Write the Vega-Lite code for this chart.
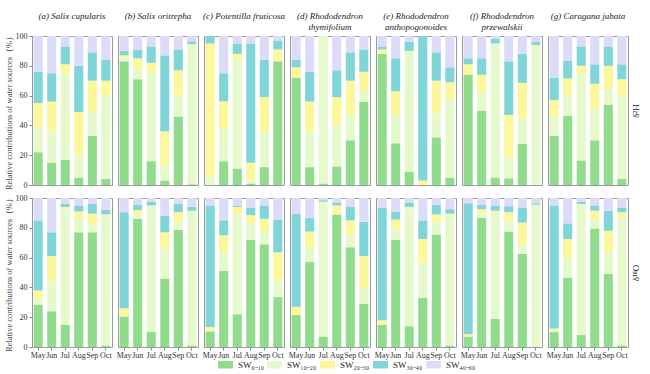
{
  "$schema": "https://vega.github.io/schema/vega-lite/v6.json",
  "background": "white",
  "padding": {"left": 4, "top": 12, "right": 2, "bottom": 2},
  "spacing": 3,
  "config": {
    "font": "Liberation Serif",
    "view": {"stroke": "#9a9a9a", "strokeWidth": 1}
  },
  "data": {"values": [
    {"sp":"a","iso":"H","m":"May","SW0-10":22,"SW10-20":17,"SW20-30":16,"SW30-40":21,"SW40-60":24},
    {"sp":"a","iso":"H","m":"Jun","SW0-10":15,"SW10-20":21,"SW20-30":20,"SW30-40":19,"SW40-60":25},
    {"sp":"a","iso":"H","m":"Jul","SW0-10":17,"SW10-20":58,"SW20-30":6,"SW30-40":12,"SW40-60":7},
    {"sp":"a","iso":"H","m":"Aug","SW0-10":5,"SW10-20":15,"SW20-30":29,"SW30-40":31,"SW40-60":20},
    {"sp":"a","iso":"H","m":"Sep","SW0-10":33,"SW10-20":16,"SW20-30":21,"SW30-40":19,"SW40-60":11},
    {"sp":"a","iso":"H","m":"Oct","SW0-10":4,"SW10-20":56,"SW20-30":10,"SW30-40":14,"SW40-60":16},
    {"sp":"b","iso":"H","m":"May","SW0-10":83,"SW10-20":2,"SW20-30":2,"SW30-40":3,"SW40-60":10},
    {"sp":"b","iso":"H","m":"Jun","SW0-10":71,"SW10-20":7,"SW20-30":7,"SW30-40":6,"SW40-60":9},
    {"sp":"b","iso":"H","m":"Jul","SW0-10":16,"SW10-20":59,"SW20-30":7,"SW30-40":11,"SW40-60":7},
    {"sp":"b","iso":"H","m":"Aug","SW0-10":3,"SW10-20":10,"SW20-30":23,"SW30-40":51,"SW40-60":13},
    {"sp":"b","iso":"H","m":"Sep","SW0-10":46,"SW10-20":14,"SW20-30":17,"SW30-40":14,"SW40-60":9},
    {"sp":"b","iso":"H","m":"Oct","SW0-10":0.5,"SW10-20":93.5,"SW20-30":0.5,"SW30-40":2,"SW40-60":3.5},
    {"sp":"c","iso":"H","m":"May","SW0-10":0,"SW10-20":6,"SW20-30":89,"SW30-40":5,"SW40-60":0},
    {"sp":"c","iso":"H","m":"Jun","SW0-10":16,"SW10-20":21,"SW20-30":19,"SW30-40":19,"SW40-60":25},
    {"sp":"c","iso":"H","m":"Jul","SW0-10":11,"SW10-20":73,"SW20-30":4,"SW30-40":7,"SW40-60":5},
    {"sp":"c","iso":"H","m":"Aug","SW0-10":1,"SW10-20":2,"SW20-30":12,"SW30-40":80,"SW40-60":5},
    {"sp":"c","iso":"H","m":"Sep","SW0-10":12,"SW10-20":24,"SW20-30":23,"SW30-40":25,"SW40-60":16},
    {"sp":"c","iso":"H","m":"Oct","SW0-10":83,"SW10-20":0,"SW20-30":8,"SW30-40":6,"SW40-60":3},
    {"sp":"d","iso":"H","m":"May","SW0-10":72,"SW10-20":0,"SW20-30":7,"SW30-40":5,"SW40-60":16},
    {"sp":"d","iso":"H","m":"Jun","SW0-10":12,"SW10-20":24,"SW20-30":20,"SW30-40":20,"SW40-60":24},
    {"sp":"d","iso":"H","m":"Jul","SW0-10":1,"SW10-20":99,"SW20-30":0,"SW30-40":0,"SW40-60":0},
    {"sp":"d","iso":"H","m":"Aug","SW0-10":12.5,"SW10-20":27.5,"SW20-30":19,"SW30-40":18,"SW40-60":23},
    {"sp":"d","iso":"H","m":"Sep","SW0-10":30,"SW10-20":17,"SW20-30":23,"SW30-40":19,"SW40-60":11},
    {"sp":"d","iso":"H","m":"Oct","SW0-10":56,"SW10-20":7,"SW20-30":13,"SW30-40":15,"SW40-60":9},
    {"sp":"e","iso":"H","m":"May","SW0-10":88,"SW10-20":0,"SW20-30":3,"SW30-40":2,"SW40-60":7},
    {"sp":"e","iso":"H","m":"Jun","SW0-10":28,"SW10-20":19,"SW20-30":16,"SW30-40":22,"SW40-60":15},
    {"sp":"e","iso":"H","m":"Jul","SW0-10":9,"SW10-20":80,"SW20-30":1,"SW30-40":6,"SW40-60":4},
    {"sp":"e","iso":"H","m":"Aug","SW0-10":0,"SW10-20":0,"SW20-30":3,"SW30-40":97,"SW40-60":0},
    {"sp":"e","iso":"H","m":"Sep","SW0-10":32,"SW10-20":16,"SW20-30":22,"SW30-40":19,"SW40-60":11},
    {"sp":"e","iso":"H","m":"Oct","SW0-10":5,"SW10-20":52,"SW20-30":12,"SW30-40":10,"SW40-60":21},
    {"sp":"f","iso":"H","m":"May","SW0-10":74,"SW10-20":0,"SW20-30":7,"SW30-40":4,"SW40-60":15},
    {"sp":"f","iso":"H","m":"Jun","SW0-10":50,"SW10-20":12,"SW20-30":12,"SW30-40":11,"SW40-60":15},
    {"sp":"f","iso":"H","m":"Jul","SW0-10":5,"SW10-20":90,"SW20-30":0,"SW30-40":3,"SW40-60":2},
    {"sp":"f","iso":"H","m":"Aug","SW0-10":4.5,"SW10-20":14,"SW20-30":28.5,"SW30-40":36,"SW40-60":17},
    {"sp":"f","iso":"H","m":"Sep","SW0-10":27.5,"SW10-20":17,"SW20-30":24,"SW30-40":19.5,"SW40-60":12},
    {"sp":"f","iso":"H","m":"Oct","SW0-10":0,"SW10-20":93,"SW20-30":1,"SW30-40":2,"SW40-60":4},
    {"sp":"g","iso":"H","m":"May","SW0-10":33,"SW10-20":13,"SW20-30":11,"SW30-40":15,"SW40-60":28},
    {"sp":"g","iso":"H","m":"Jun","SW0-10":46.5,"SW10-20":14,"SW20-30":11,"SW30-40":12,"SW40-60":16.5},
    {"sp":"g","iso":"H","m":"Jul","SW0-10":16.5,"SW10-20":57.5,"SW20-30":6,"SW30-40":13,"SW40-60":7},
    {"sp":"g","iso":"H","m":"Aug","SW0-10":30,"SW10-20":21,"SW20-30":17,"SW30-40":13,"SW40-60":19},
    {"sp":"g","iso":"H","m":"Sep","SW0-10":54,"SW10-20":10,"SW20-30":16,"SW30-40":13,"SW40-60":7},
    {"sp":"g","iso":"H","m":"Oct","SW0-10":4,"SW10-20":56,"SW20-30":11,"SW30-40":10,"SW40-60":19},
    {"sp":"a","iso":"O","m":"May","SW0-10":28.5,"SW10-20":4,"SW20-30":5.5,"SW30-40":47,"SW40-60":15},
    {"sp":"a","iso":"O","m":"Jun","SW0-10":24,"SW10-20":20,"SW20-30":17,"SW30-40":16,"SW40-60":23},
    {"sp":"a","iso":"O","m":"Jul","SW0-10":15,"SW10-20":78,"SW20-30":1,"SW30-40":2,"SW40-60":4},
    {"sp":"a","iso":"O","m":"Aug","SW0-10":77,"SW10-20":9,"SW20-30":5,"SW30-40":4,"SW40-60":5},
    {"sp":"a","iso":"O","m":"Sep","SW0-10":77,"SW10-20":5,"SW20-30":7.5,"SW30-40":6.5,"SW40-60":4},
    {"sp":"a","iso":"O","m":"Oct","SW0-10":1,"SW10-20":87,"SW20-30":1,"SW30-40":3,"SW40-60":8},
    {"sp":"b","iso":"O","m":"May","SW0-10":20.5,"SW10-20":0,"SW20-30":5.5,"SW30-40":64.5,"SW40-60":9.5},
    {"sp":"b","iso":"O","m":"Jun","SW0-10":86,"SW10-20":3,"SW20-30":3,"SW30-40":3.5,"SW40-60":4.5},
    {"sp":"b","iso":"O","m":"Jul","SW0-10":10,"SW10-20":85,"SW20-30":0,"SW30-40":2.5,"SW40-60":2.5},
    {"sp":"b","iso":"O","m":"Aug","SW0-10":46,"SW10-20":20,"SW20-30":11,"SW30-40":11,"SW40-60":12},
    {"sp":"b","iso":"O","m":"Sep","SW0-10":78.5,"SW10-20":5,"SW20-30":7,"SW30-40":5.5,"SW40-60":4},
    {"sp":"b","iso":"O","m":"Oct","SW0-10":1,"SW10-20":89.5,"SW20-30":1,"SW30-40":2.5,"SW40-60":6},
    {"sp":"c","iso":"O","m":"May","SW0-10":10.5,"SW10-20":0,"SW20-30":3,"SW30-40":81.5,"SW40-60":5},
    {"sp":"c","iso":"O","m":"Jun","SW0-10":51,"SW10-20":12.5,"SW20-30":11.5,"SW30-40":10,"SW40-60":15},
    {"sp":"c","iso":"O","m":"Jul","SW0-10":22,"SW10-20":67,"SW20-30":5,"SW30-40":1,"SW40-60":5},
    {"sp":"c","iso":"O","m":"Aug","SW0-10":72,"SW10-20":11,"SW20-30":5.5,"SW30-40":5,"SW40-60":6.5},
    {"sp":"c","iso":"O","m":"Sep","SW0-10":69,"SW10-20":9,"SW20-30":8,"SW30-40":9,"SW40-60":5},
    {"sp":"c","iso":"O","m":"Oct","SW0-10":33.5,"SW10-20":11,"SW20-30":19,"SW30-40":22,"SW40-60":14.5},
    {"sp":"d","iso":"O","m":"May","SW0-10":21.5,"SW10-20":0,"SW20-30":5.5,"SW30-40":62.5,"SW40-60":10.5},
    {"sp":"d","iso":"O","m":"Jun","SW0-10":57,"SW10-20":10,"SW20-30":10.5,"SW30-40":9,"SW40-60":13.5},
    {"sp":"d","iso":"O","m":"Jul","SW0-10":7,"SW10-20":89.5,"SW20-30":1,"SW30-40":1,"SW40-60":1.5},
    {"sp":"d","iso":"O","m":"Aug","SW0-10":89,"SW10-20":0,"SW20-30":6,"SW30-40":2,"SW40-60":3},
    {"sp":"d","iso":"O","m":"Sep","SW0-10":67,"SW10-20":8,"SW20-30":10,"SW30-40":9,"SW40-60":6},
    {"sp":"d","iso":"O","m":"Oct","SW0-10":29,"SW10-20":10,"SW20-30":22,"SW30-40":23,"SW40-60":16},
    {"sp":"e","iso":"O","m":"May","SW0-10":15,"SW10-20":0,"SW20-30":3,"SW30-40":75.5,"SW40-60":6.5},
    {"sp":"e","iso":"O","m":"Jun","SW0-10":72,"SW10-20":7,"SW20-30":6.5,"SW30-40":5.5,"SW40-60":9},
    {"sp":"e","iso":"O","m":"Jul","SW0-10":14,"SW10-20":79,"SW20-30":1,"SW30-40":3,"SW40-60":3},
    {"sp":"e","iso":"O","m":"Aug","SW0-10":33,"SW10-20":23,"SW20-30":16.5,"SW30-40":12.5,"SW40-60":15},
    {"sp":"e","iso":"O","m":"Sep","SW0-10":75.5,"SW10-20":8,"SW20-30":5.5,"SW30-40":6.5,"SW40-60":4.5},
    {"sp":"e","iso":"O","m":"Oct","SW0-10":1,"SW10-20":87.5,"SW20-30":1,"SW30-40":3,"SW40-60":7.5},
    {"sp":"f","iso":"O","m":"May","SW0-10":7,"SW10-20":0,"SW20-30":1.5,"SW30-40":88,"SW40-60":3.5},
    {"sp":"f","iso":"O","m":"Jun","SW0-10":86.5,"SW10-20":3,"SW20-30":3,"SW30-40":3,"SW40-60":4.5},
    {"sp":"f","iso":"O","m":"Jul","SW0-10":19,"SW10-20":71,"SW20-30":1.5,"SW30-40":3.5,"SW40-60":5},
    {"sp":"f","iso":"O","m":"Aug","SW0-10":77.5,"SW10-20":7,"SW20-30":6,"SW30-40":4,"SW40-60":5.5},
    {"sp":"f","iso":"O","m":"Sep","SW0-10":62.5,"SW10-20":6.5,"SW20-30":14.5,"SW30-40":10,"SW40-60":6.5},
    {"sp":"f","iso":"O","m":"Oct","SW0-10":0,"SW10-20":95.5,"SW20-30":0,"SW30-40":1,"SW40-60":3.5},
    {"sp":"g","iso":"O","m":"May","SW0-10":10,"SW10-20":1,"SW20-30":1.5,"SW30-40":82.5,"SW40-60":5},
    {"sp":"g","iso":"O","m":"Jun","SW0-10":46.5,"SW10-20":13.5,"SW20-30":12.5,"SW30-40":10.5,"SW40-60":17},
    {"sp":"g","iso":"O","m":"Jul","SW0-10":8,"SW10-20":88,"SW20-30":0,"SW30-40":1.5,"SW40-60":2.5},
    {"sp":"g","iso":"O","m":"Aug","SW0-10":79.5,"SW10-20":6,"SW20-30":6,"SW30-40":3.5,"SW40-60":5},
    {"sp":"g","iso":"O","m":"Sep","SW0-10":49,"SW10-20":14.5,"SW20-30":14.5,"SW30-40":13.5,"SW40-60":8.5},
    {"sp":"g","iso":"O","m":"Oct","SW0-10":1,"SW10-20":86,"SW20-30":3.5,"SW30-40":3,"SW40-60":6.5}
  ]},
  "transform": [
    {"fold": ["SW0-10", "SW10-20", "SW20-30", "SW30-40", "SW40-60"], "as": ["src", "val"]}
  ],
  "vconcat": [
    {
      "transform": [{"filter": "datum.iso == 'H'"}],
      "bounds": "flush",
      "spacing": 6,
      "facet": {
        "column": {
          "field": "sp", "type": "nominal", "title": null,
          "header": {
            "labelFont": "Liberation Serif", "labelFontStyle": "italic", "labelFontSize": 9, "labelColor": "#222",
            "labelPadding": 4, "labelLineHeight": 11,
            "labelExpr": "datum.value == 'a' ? ['(a) Salix cupularis', ' '] : datum.value == 'b' ? ['(b) Salix oritrepha', ' '] : datum.value == 'c' ? ['(c) Potentilla fruticosa', ' '] : datum.value == 'd' ? ['(d) Rhododendron', 'thymifolium'] : datum.value == 'e' ? ['(e) Rhododendron', 'anthopogonoides'] : datum.value == 'f' ? ['(f) Rhododendron', 'przewalskii'] : ['(g) Caragana jubata', ' ']"
          }
        }
      },
      "spec": {
        "width": 80,
        "height": 149,
        "resolve": {"axis": {"y": "independent"}},
        "layer": [
          {
            "mark": {"type": "bar"},
            "encoding": {
              "x": {
                "field": "m", "type": "nominal", "sort": ["May", "Jun", "Jul", "Aug", "Sep", "Oct"],
                "scale": {"paddingInner": 0.33, "paddingOuter": 0.12},
                "axis": null
              },
              "y": {
                "field": "val", "type": "quantitative", "stack": "zero",
                "scale": {"domain": [0, 100], "nice": false},
                "axis": {"title": "Relative contributions of water sources（%）", "tickCount": 5, "labelFontSize": 8, "labelFont": "Liberation Serif", "labelColor": "#333", "titleFont": "Liberation Serif", "titleColor": "#444", "titleFontSize": 8.5, "titleFontWeight": "normal", "tickSize": 3, "titlePadding": 2, "domain": false, "grid": false}
              },
              "color": {
                "field": "src", "type": "nominal",
                "scale": {"domain": ["SW0-10", "SW10-20", "SW20-30", "SW30-40", "SW40-60"], "range": ["#90dc8c", "#e6f9cc", "#fbf79a", "#7fd5d8", "#dcdcf8"]},
                "legend": {
                  "title": null, "orient": "none", "legendX": 189, "legendY": 324, "direction": "horizontal",
                  "symbolType": "M-2,-1L2,-1L2,1L-2,1Z", "symbolSize": 56, "symbolStrokeWidth": 0,
                  "labelFont": "Liberation Serif", "labelFontSize": 9, "labelColor": "#222", "columnPadding": 3, "labelOffset": 8,
                  "labelExpr": "datum.label == 'SW0-10' ? 'SW₀₋₁₀' : datum.label == 'SW10-20' ? 'SW₁₀₋₂₀' : datum.label == 'SW20-30' ? 'SW₂₀₋₃₀' : datum.label == 'SW30-40' ? 'SW₃₀₋₄₀' : 'SW₄₀₋₆₀'"
                }
              },
              "order": {"field": "src", "type": "nominal", "sort": "ascending"}
            }
          },
          {
            "mark": {"type": "rule", "opacity": 0},
            "encoding": {
              "y": {
                "field": "val", "type": "quantitative",
                "axis": {"orient": "right", "title": "δ²H", "labels": false, "ticks": false, "domain": false, "grid": false, "titleAngle": -90, "titleFont": "Liberation Serif", "titleFontSize": 9, "titleFontWeight": "normal", "titleColor": "#222", "titlePadding": 12}
              }
            }
          }
        ]
      }
    },
    {
      "transform": [{"filter": "datum.iso == 'O'"}],
      "bounds": "flush",
      "spacing": 6,
      "facet": {
        "column": {"field": "sp", "type": "nominal", "title": null, "header": {"labels": false}}
      },
      "spec": {
        "width": 80,
        "height": 149,
        "resolve": {"axis": {"y": "independent"}},
        "layer": [
          {
            "mark": {"type": "bar"},
            "encoding": {
              "x": {
                "field": "m", "type": "nominal", "sort": ["May", "Jun", "Jul", "Aug", "Sep", "Oct"],
                "scale": {"paddingInner": 0.33, "paddingOuter": 0.12},
                "axis": {"title": null, "labelAngle": 0, "labelFontSize": 8, "tickSize": 3, "labelPadding": 1, "labelFont": "Liberation Serif", "labelColor": "#333", "domain": false}
              },
              "y": {
                "field": "val", "type": "quantitative", "stack": "zero",
                "scale": {"domain": [0, 100], "nice": false},
                "axis": {"title": "Relative contributions of water sources（%）", "tickCount": 5, "labelFontSize": 8, "labelFont": "Liberation Serif", "labelColor": "#333", "titleFont": "Liberation Serif", "titleColor": "#444", "titleFontSize": 8.5, "titleFontWeight": "normal", "tickSize": 3, "titlePadding": 2, "domain": false, "grid": false}
              },
              "color": {
                "field": "src", "type": "nominal",
                "scale": {"domain": ["SW0-10", "SW10-20", "SW20-30", "SW30-40", "SW40-60"], "range": ["#90dc8c", "#e6f9cc", "#fbf79a", "#7fd5d8", "#dcdcf8"]}
              },
              "order": {"field": "src", "type": "nominal", "sort": "ascending"}
            }
          },
          {
            "mark": {"type": "rule", "opacity": 0},
            "encoding": {
              "y": {
                "field": "val", "type": "quantitative",
                "axis": {"orient": "right", "title": "δ¹⁸O", "labels": false, "ticks": false, "domain": false, "grid": false, "titleAngle": -90, "titleFont": "Liberation Serif", "titleFontSize": 9, "titleFontWeight": "normal", "titleColor": "#222", "titlePadding": 12}
              }
            }
          }
        ]
      }
    }
  ]
}
